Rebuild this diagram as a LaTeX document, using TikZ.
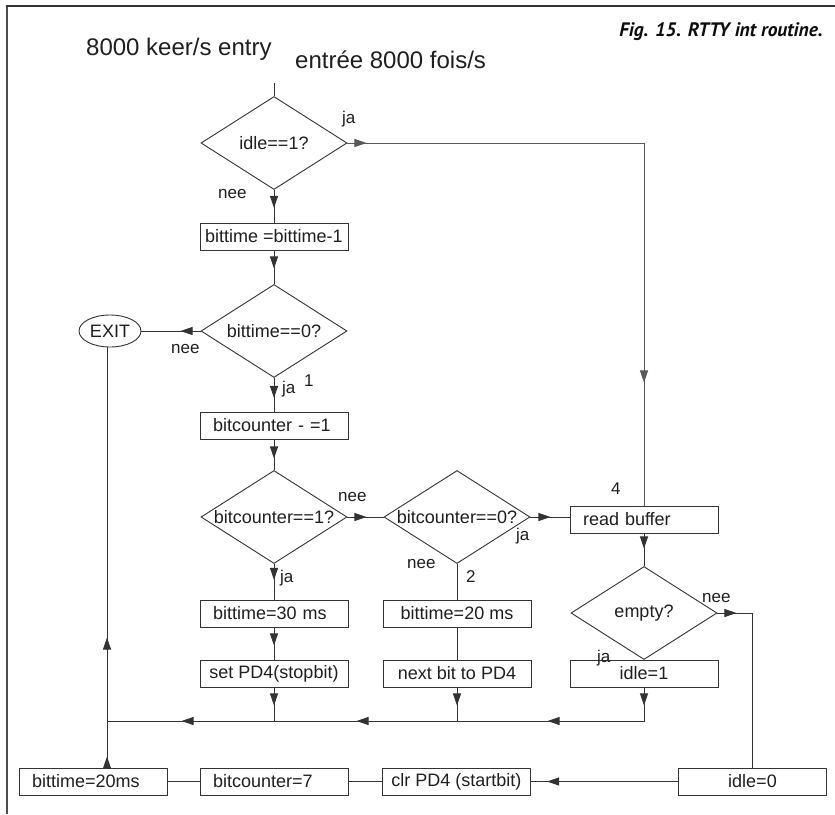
\documentclass[tikz,border=0pt]{standalone}
\usepackage{fontspec}
\setmainfont{Liberation Sans}
\newfontfamily\capfont{PT Sans}
\usetikzlibrary{shapes.geometric,arrows.meta,decorations.markings}
\begin{document}
\begin{tikzpicture}[x=1pt,y=-1pt,
  ftri/.tip={Triangle[length=12pt,width=8pt]},
  ln/.style={draw=black!80, line width=0.9pt},
  txt/.style={text=black!88},
  boxl/.style={ln, txt, rectangle, minimum width=148pt, minimum height=27pt,
    inner xsep=13pt, inner ysep=0pt, text width=122pt, align=left,
    font=\fontsize{18}{20}\selectfont},
  boxc/.style={ln, txt, rectangle, minimum width=148pt, minimum height=27pt,
    inner sep=0pt, align=center, font=\fontsize{18}{20}\selectfont},
  dia/.style={ln, txt, diamond, aspect=1.57, minimum width=146pt, minimum height=93pt,
    inner sep=0pt, font=\fontsize{18}{20}\selectfont},
  lab/.style={txt, inner sep=0pt, anchor=base west, font=\fontsize{17}{19}\selectfont},
  conn/.style={draw=black!80, line width=0.9pt},
  mk/.style={postaction={decorate,decoration={markings,mark=at position #1 with {\arrow{ftri}}}}},
]
\useasboundingbox (0,0) rectangle (835,814);
\fill[white] (0,0) rectangle (835,814);
% frame
\draw[black!70, line width=2pt] (7,5) -- (7,814);
\draw[black!80, line width=1.4pt] (6,6) -- (835,6);

% titles
\node[txt, anchor=base west, inner sep=0pt, font=\fontsize{24}{26}\selectfont] (t1) at (86,55) {8000 keer/s entry};
\node[txt, anchor=base west, inner sep=0pt, font=\fontsize{24}{26}\selectfont] (t2) at (295,68) {entrée 8000 fois/s};
\node[text=black!95, anchor=base east, inner sep=0pt, font=\capfont\bfseries\itshape\fontsize{19.5}{21}\selectfont] (cap) at (823,36) {Fig. 15. RTTY int routine.};

% nodes
\node[dia] (d1) at (274,143) {idle==1?};
\node[boxc] (b1) at (274,236.5) {bittime =bittime-1};
\node[dia] (d2) at (274,331) {bittime==0?};
\node[ln, txt, ellipse, minimum width=62pt, minimum height=32pt, inner sep=0pt,
  font=\fontsize{18}{20}\selectfont] (exit) at (110,331) {EXIT};
\node[boxl] (b2) at (274,425.5) {bitcounter - =1};
\node[dia] (d3) at (274,517) {bitcounter==1?};
\node[dia] (d4) at (457,517) {bitcounter==0?};
\node[boxl] (rb) at (644,519.5) {read buffer};
\node[boxl] (bt30) at (274,613.5) {bittime=30 ms};
\node[boxc] (set) at (274,673.5) {set PD4(stopbit)};
\node[boxc] (bt20) at (457,613.5) {bittime=20 ms};
\node[boxc] (nxt) at (457,673.5) {next bit to PD4};
\node[dia] (d5) at (644,613) {empty?};
\node[boxc] (idle1) at (644,673.5) {idle=1};
\node[boxc] (idle0) at (752.5,781.5) {idle=0};
\node[boxc] (clr) at (456.5,781.5) {clr PD4 (startbit)};
\node[boxl] (bc7) at (274,781.5) {bitcounter=7};
\node[boxl] (bt20ms) at (93,781.5) {bittime=20ms};

\coordinate (entry) at (274,83);
\coordinate (j) at (107,721);

% connectors
\draw[conn] (entry) -- (d1.north);
\draw[conn, draw=black!65, mk=19pt, mk=536pt] (d1.east) -- (d1.east -| rb.north) -- (rb.north);
\draw[conn, mk=18pt] (d1.south) -- (b1.north);
\draw[conn, mk=18pt] (b1.south) -- (d2.north);
\draw[conn, mk=20pt] (d2.west) -- (exit.east);
\draw[conn, mk=20pt] (d2.south) -- (b2.north);
\draw[conn, mk=19pt] (b2.south) -- (d3.north);
\draw[conn, mk=19pt] (d3.east) -- (d4.west);
\draw[conn, mk=20pt] (d4.east) -- (d4.east -| rb.west);
\draw[conn, mk=15pt] (rb.south) -- (d5.north);
\draw[conn, mk=16pt] (d3.south) -- (bt30.north);
\draw[conn] (d4.south) -- (bt20.north);
\draw[conn, mk=18pt] (bt30.south) -- (set.north);
\draw[conn] (bt20.south) -- (nxt.north);
\draw[conn, mk=18pt] (set.south) -- (set.south |- j);
\draw[conn, mk=18pt] (nxt.south) -- (nxt.south |- j);
\draw[conn, mk=18pt, mk=130pt, mk=321pt, mk=496pt, mk=654pt]
  (idle1.south) -- (idle1.south |- j) -- (j) -- (exit.south -| j);
\draw[conn, mk=11pt] (bt20ms.north -| j) -- (j);
\draw[conn, mk=19pt] (d5.east) -- (d5.east -| idle0.north) -- (idle0.north);
\draw[conn, mk=131pt] (idle0.west) -- (clr.east);
\draw[conn] (clr.west) -- (bc7.east);
\draw[conn] (bc7.west) -- (bt20ms.east);

% labels
\node[lab] (l1) at (342,123) {ja};
\node[lab] (l2) at (218,198) {nee};
\node[lab] (l3) at (171,353) {nee};
\node[lab] (l4) at (282,393) {ja};
\node[lab] (l5) at (304,386) {1};
\node[lab] (l6) at (338,501) {nee};
\node[lab] (l7) at (516,540) {ja};
\node[lab] (l8) at (407,568) {nee};
\node[lab] (l9) at (466,582) {2};
\node[lab] (l10) at (611,494) {4};
\node[lab] (l11) at (280,582) {ja};
\node[lab] (l12) at (702,602) {nee};
\node[lab] (l13) at (597,662) {ja};
\end{tikzpicture}
\end{document}
